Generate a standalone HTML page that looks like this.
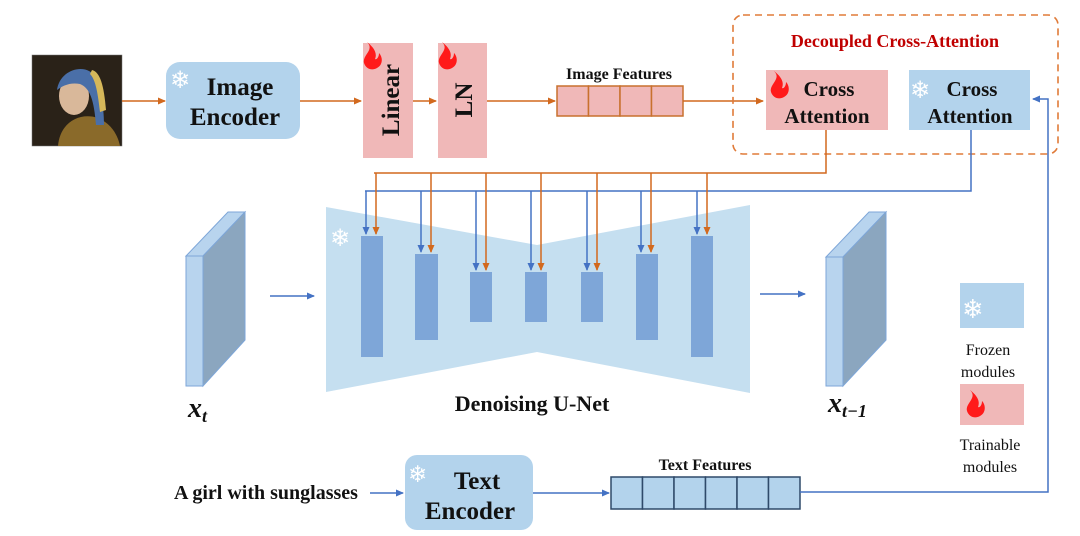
<!DOCTYPE html>
<html><head><meta charset="utf-8"><style>
html,body{margin:0;padding:0;background:#fff;}
svg{display:block;}
text{font-family:"Liberation Serif","DejaVu Serif",serif;font-weight:bold;fill:#111;}
.sf{fill:#fff;font-family:"DejaVu Sans",sans-serif;font-weight:normal;}
</style></head><body>
<svg width="1080" height="536" viewBox="0 0 1080 536" xmlns="http://www.w3.org/2000/svg">
<defs>
<marker id="ao" markerWidth="8" markerHeight="8" refX="7" refY="4" orient="auto" markerUnits="userSpaceOnUse"><path d="M0,0.5 L8,4 L0,7.5z" fill="#d2691e"/></marker>
<marker id="ab" markerWidth="8" markerHeight="8" refX="7" refY="4" orient="auto" markerUnits="userSpaceOnUse"><path d="M0,0.5 L8,4 L0,7.5z" fill="#4472c4"/></marker>
<g id="flame"><path d="M8,0 C16,8 3,13 5,21 C7,27 13,29 18,26 C24,23 24,15 20,11 C20,16 17,18 16,17 C19,10 13,4 8,0z" fill="#ff1a1a"/></g>
</defs>

<!-- painting -->
<rect x="32" y="55" width="90" height="91" fill="#2a2218" stroke="#777" stroke-width="0.5"/>
<path d="M58,146 C60,122 80,112 98,118 C112,124 118,136 120,146z" fill="#8a6a2a"/>
<ellipse cx="74" cy="96" rx="15" ry="19" fill="#d9b89a"/>
<path d="M57,90 C60,68 88,62 96,78 C100,88 104,104 104,125 L96,125 C94,100 90,88 80,84 C70,82 62,86 57,90z" fill="#4a6fa8"/>
<path d="M92,70 C100,72 104,85 106,110 L100,112 C98,95 96,80 90,74z" fill="#d6b85a"/>

<!-- top row -->
<line x1="122" y1="101" x2="165" y2="101" stroke="#d2691e" stroke-width="1.5" marker-end="url(#ao)"/>
<rect x="166" y="62" width="134" height="77" rx="14" fill="#b3d3ec"/>
<text x="170" y="88" class="sf" font-size="24">❄</text>
<text x="240" y="95" font-size="25" text-anchor="middle">Image</text>
<text x="235" y="125" font-size="25" text-anchor="middle">Encoder</text>
<line x1="300" y1="101" x2="361" y2="101" stroke="#d2691e" stroke-width="1.5" marker-end="url(#ao)"/>
<rect x="363" y="43" width="50" height="115" fill="#f0b8b8"/>
<use href="#flame" x="359" y="42"/>
<text transform="translate(399,100) rotate(-90)" font-size="25" text-anchor="middle">Linear</text>
<line x1="413" y1="101" x2="436" y2="101" stroke="#d2691e" stroke-width="1.5" marker-end="url(#ao)"/>
<rect x="438" y="43" width="49" height="115" fill="#f0b8b8"/>
<use href="#flame" x="434" y="42"/>
<text transform="translate(472,100) rotate(-90)" font-size="25" text-anchor="middle">LN</text>
<line x1="487" y1="101" x2="555" y2="101" stroke="#d2691e" stroke-width="1.5" marker-end="url(#ao)"/>
<text x="619" y="79" font-size="16" text-anchor="middle">Image Features</text>
<g fill="#f0b8b8" stroke="#c8712e" stroke-width="1.5">
<rect x="557" y="86" width="31.5" height="30"/><rect x="588.5" y="86" width="31.5" height="30"/><rect x="620" y="86" width="31.5" height="30"/><rect x="651.5" y="86" width="31.5" height="30"/></g>
<line x1="683" y1="101" x2="763" y2="101" stroke="#d2691e" stroke-width="1.5" marker-end="url(#ao)"/>

<rect x="733" y="15" width="325" height="139" rx="10" fill="none" stroke="#e07b39" stroke-width="1.6" stroke-dasharray="7,5"/>
<text x="895" y="47" font-size="18" text-anchor="middle" style="fill:#c00000">Decoupled Cross-Attention</text>
<rect x="766" y="70" width="122" height="60" fill="#f0b8b8"/>
<use href="#flame" x="766" y="71"/>
<text x="829" y="96" font-size="21" text-anchor="middle">Cross</text>
<text x="827" y="123" font-size="21" text-anchor="middle">Attention</text>
<rect x="909" y="70" width="121" height="60" fill="#b3d3ec"/>
<text x="910" y="98" class="sf" font-size="24">❄</text>
<text x="972" y="96" font-size="21" text-anchor="middle">Cross</text>
<text x="970" y="123" font-size="21" text-anchor="middle">Attention</text>

<!-- connectors -->
<polyline points="826,130 826,173 374,173" fill="none" stroke="#d2691e" stroke-width="1.5"/>
<polyline points="971,130 971,191 365,191" fill="none" stroke="#4472c4" stroke-width="1.5"/>

<!-- unet -->
<polygon points="326,207 537,245 750,205 750,393 537,352 326,392" fill="#c5dff0"/>
<text x="330" y="246" class="sf" font-size="24">❄</text>
<g fill="#7ea6d8">
<rect x="361" y="236" width="22" height="121"/>
<rect x="415" y="254" width="23" height="86"/>
<rect x="470" y="272" width="22" height="50"/>
<rect x="525" y="272" width="22" height="50"/>
<rect x="581" y="272" width="22" height="50"/>
<rect x="636" y="254" width="22" height="86"/>
<rect x="691" y="236" width="22" height="121"/>
</g>
<g stroke-width="1.5" fill="none">
<line x1="366" y1="191" x2="366" y2="234" stroke="#4472c4" marker-end="url(#ab)"/>
<line x1="376" y1="173" x2="376" y2="234" stroke="#d2691e" marker-end="url(#ao)"/>
<line x1="421" y1="191" x2="421" y2="252" stroke="#4472c4" marker-end="url(#ab)"/>
<line x1="431" y1="173" x2="431" y2="252" stroke="#d2691e" marker-end="url(#ao)"/>
<line x1="476" y1="191" x2="476" y2="270" stroke="#4472c4" marker-end="url(#ab)"/>
<line x1="486" y1="173" x2="486" y2="270" stroke="#d2691e" marker-end="url(#ao)"/>
<line x1="531" y1="191" x2="531" y2="270" stroke="#4472c4" marker-end="url(#ab)"/>
<line x1="541" y1="173" x2="541" y2="270" stroke="#d2691e" marker-end="url(#ao)"/>
<line x1="587" y1="191" x2="587" y2="270" stroke="#4472c4" marker-end="url(#ab)"/>
<line x1="597" y1="173" x2="597" y2="270" stroke="#d2691e" marker-end="url(#ao)"/>
<line x1="641" y1="191" x2="641" y2="252" stroke="#4472c4" marker-end="url(#ab)"/>
<line x1="651" y1="173" x2="651" y2="252" stroke="#d2691e" marker-end="url(#ao)"/>
<line x1="697" y1="191" x2="697" y2="234" stroke="#4472c4" marker-end="url(#ab)"/>
<line x1="707" y1="173" x2="707" y2="234" stroke="#d2691e" marker-end="url(#ao)"/>
</g>
<text x="532" y="411" font-size="22" text-anchor="middle">Denoising U-Net</text>

<!-- slabs -->
<g stroke="#7ea6d8" stroke-width="1">
<polygon points="186,256 228,212 245,212 203,256" fill="#b8d4ee"/>
<polygon points="203,256 245,212 245,340 203,386" fill="#8ba6bf"/>
<rect x="186" y="256" width="17" height="130" fill="#b8d4ee"/>
<polygon points="826,257 869,212 886,212 843,257" fill="#b8d4ee"/>
<polygon points="843,257 886,212 886,340 843,386" fill="#8ba6bf"/>
<rect x="826" y="257" width="17" height="129" fill="#b8d4ee"/>
</g>
<line x1="270" y1="296" x2="314" y2="296" stroke="#4472c4" stroke-width="1.5" marker-end="url(#ab)"/>
<line x1="760" y1="294" x2="805" y2="294" stroke="#4472c4" stroke-width="1.5" marker-end="url(#ab)"/>
<text x="188" y="417" font-size="28" font-style="italic">x<tspan font-size="18" dy="5">t</tspan></text>
<text x="828" y="412" font-size="28" font-style="italic">x<tspan font-size="18" dy="5">t−1</tspan></text>

<!-- legend -->
<rect x="960" y="283" width="64" height="45" fill="#b3d3ec"/>
<text x="962" y="318" class="sf" font-size="26">❄</text>
<text x="988" y="355" font-size="16" text-anchor="middle" style="font-weight:normal">Frozen</text>
<text x="988" y="377" font-size="16" text-anchor="middle" style="font-weight:normal">modules</text>
<rect x="960" y="384" width="64" height="41" fill="#f0b8b8"/>
<use href="#flame" x="962" y="390"/>
<text x="990" y="450" font-size="16" text-anchor="middle" style="font-weight:normal">Trainable</text>
<text x="990" y="472" font-size="16" text-anchor="middle" style="font-weight:normal">modules</text>

<!-- bottom -->
<text x="266" y="499" font-size="20" text-anchor="middle">A girl with sunglasses</text>
<line x1="370" y1="493" x2="403" y2="493" stroke="#4472c4" stroke-width="1.5" marker-end="url(#ab)"/>
<rect x="405" y="455" width="128" height="75" rx="12" fill="#b3d3ec"/>
<text x="408" y="482" class="sf" font-size="23">❄</text>
<text x="477" y="489" font-size="25" text-anchor="middle">Text</text>
<text x="470" y="519" font-size="25" text-anchor="middle">Encoder</text>
<line x1="533" y1="493" x2="609" y2="493" stroke="#4472c4" stroke-width="1.5" marker-end="url(#ab)"/>
<text x="705" y="470" font-size="16" text-anchor="middle">Text Features</text>
<g fill="#b3d3ec" stroke="#2f4a6a" stroke-width="1.5">
<rect x="611" y="477" width="31.5" height="32"/><rect x="642.5" y="477" width="31.5" height="32"/><rect x="674" y="477" width="31.5" height="32"/><rect x="705.5" y="477" width="31.5" height="32"/><rect x="737" y="477" width="31.5" height="32"/><rect x="768.5" y="477" width="31.5" height="32"/></g>
<polyline points="800,492 1048,492 1048,99 1033,99" fill="none" stroke="#4472c4" stroke-width="1.5" marker-end="url(#ab)"/>
</svg>
</body></html>
